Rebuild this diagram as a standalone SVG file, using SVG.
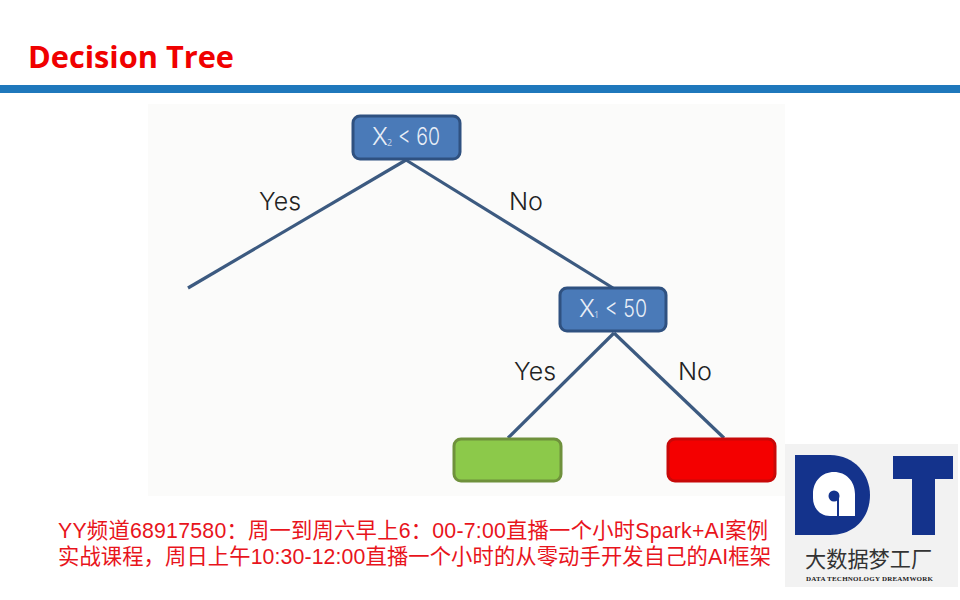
<svg xmlns="http://www.w3.org/2000/svg" width="960" height="600" viewBox="0 0 960 600">
<style>
.box{stroke-width:3}
.blue{fill:#4a7ab8;stroke:#2f5180}
.lbl{font-family:Inter,"Open Sans",sans-serif;font-size:24px;font-weight:300;fill:#222}
.nt{font-family:Inter,"Open Sans",sans-serif;font-size:24px;font-weight:300;fill:#e8eef7}
.sub{font-family:"Open Sans","Noto Sans",sans-serif;font-size:9px;fill:#c5d5ea}
.cap{font-family:"Liberation Sans","Noto Sans CJK SC",sans-serif;font-size:21.3px;fill:#e8141c}
.edge{stroke:#3c5a80;stroke-width:3.2;fill:none}
</style>
<rect width="960" height="600" fill="#fff"/>
<text x="28" y="68" font-family="Open Sans,Noto Sans,sans-serif" font-weight="700" font-size="30.5" fill="#f00000" textLength="206" lengthAdjust="spacingAndGlyphs">Decision Tree</text>
<rect x="0" y="85" width="960" height="8" fill="#1f78bc"/>
<rect x="148" y="104" width="637" height="392" fill="#fbfbfa"/>
<g id="connectors">
<line class="edge" x1="406" y1="160" x2="188" y2="288"/>
<line class="edge" x1="406" y1="160" x2="613" y2="288"/>
<line class="edge" x1="614" y1="333" x2="508" y2="438"/>
<line class="edge" x1="614" y1="333" x2="724" y2="438"/>
</g>
<g id="node-x2">
<rect class="box blue" x="353" y="116" width="107" height="43" rx="7"/>
<text class="nt" x="372" y="145">X</text><text class="sub" x="387" y="146">2</text><text class="nt" x="398" y="145" textLength="42" lengthAdjust="spacingAndGlyphs">&lt; 60</text>
</g>
<g id="node-x1">
<rect class="box blue" x="560" y="288" width="106" height="43" rx="7"/>
<text class="nt" x="579" y="317">X</text><text class="sub" x="594" y="318">1</text><text class="nt" x="605" y="317" textLength="42" lengthAdjust="spacingAndGlyphs">&lt; 50</text>
</g>
<g id="node-green"><rect class="box" x="454" y="439" width="107" height="42" rx="7" fill="#8cc94a" stroke="#6f913c"/></g>
<g id="node-red"><rect class="box" x="668" y="439" width="107" height="42" rx="7" fill="#f40000" stroke="#c80808"/></g>
<text class="lbl" x="259" y="210" textLength="42" lengthAdjust="spacingAndGlyphs">Yes</text>
<text class="lbl" x="509" y="210" textLength="34" lengthAdjust="spacingAndGlyphs">No</text>
<text class="lbl" x="514" y="380" textLength="42" lengthAdjust="spacingAndGlyphs">Yes</text>
<text class="lbl" x="678" y="380" textLength="34" lengthAdjust="spacingAndGlyphs">No</text>
<g id="logo">
<rect x="785" y="444" width="173" height="143" fill="#f2f2f2"/>
<path d="M795 455H830C855 455 870 475 870 495C870 517 855 535 830 535H795Z" fill="#14338c"/>
<path d="M813 516V494C813 481 822 472 834 472C846 472 855 481 855 494V516H839V496H837V516H830C820 516 813 508 813 498Z" fill="#fff"/>
<circle cx="834" cy="496" r="5.5" fill="#14338c"/>
<path d="M893 456H953V479H935V535H912V479H893Z" fill="#14338c"/>
<text x="805" y="567" font-family="Noto Sans CJK SC,sans-serif" font-size="21.2" fill="#333">大数据梦工厂</text>
<text x="806" y="581" font-family="Liberation Serif,serif" font-weight="700" font-size="7" fill="#222" textLength="127" lengthAdjust="spacing">DATA TECHNOLOGY DREAMWORK</text>
</g>
<text class="cap" x="58" y="538" textLength="710">YY频道68917580：周一到周六早上6：00-7:00直播一个小时Spark+AI案例</text>
<text class="cap" x="58" y="564" textLength="713">实战课程，周日上午10:30-12:00直播一个小时的从零动手开发自己的AI框架</text>
</svg>
